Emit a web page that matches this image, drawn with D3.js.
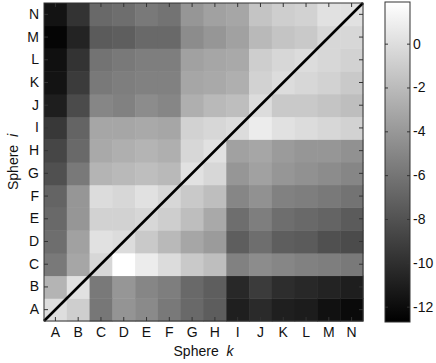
<!DOCTYPE html>
<html><head><meta charset="utf-8">
<script src="https://cdn.jsdelivr.net/npm/d3@7"></script>
<style>body{margin:0;background:#fff}text{font-family:"Liberation Sans",Arial,sans-serif}</style>
</head><body><svg id="c" width="436" height="363"></svg>
<script>
const spheres = ["A","B","C","D","E","F","G","H","I","J","K","L","M","N"];
// rows listed by sphere i (A..N), columns by sphere k (A..N)
const rowA = [0.0,-0.9,-5.9,-4.2,-4.8,-5.8,-6.7,-7.4,-10.9,-10.3,-10.9,-11.1,-11.7,-12.1];
const rowB = [-2.4,0.2,-5.8,-4.1,-5.0,-5.5,-6.7,-7.3,-10.4,-9.3,-10.1,-10.4,-10.7,-11.0];
const rowC = [-5.8,-3.2,-0.4,1.9,0.8,-0.1,-1.2,-1.8,-5.3,-4.7,-5.0,-5.3,-5.5,-5.8];
const rowD = [-6.4,-3.5,0.2,-0.1,-1.2,-2.1,-3.2,-3.8,-7.3,-6.4,-7.3,-7.5,-8.1,-8.4];
const rowE = [-6.7,-4.1,-0.7,-0.7,-0.4,-0.9,-1.8,-3.0,-6.4,-5.5,-6.4,-6.7,-7.0,-7.5];
const rowF = [-7.0,-4.1,-0.1,-0.4,0.2,-0.4,-1.2,-1.8,-5.0,-4.4,-5.3,-5.5,-5.8,-6.1];
const rowG = [-8.1,-5.8,-2.4,-2.1,-1.8,-2.1,0.2,-0.4,-4.1,-3.5,-4.1,-4.4,-4.7,-5.0];
const rowH = [-8.7,-6.7,-3.0,-2.7,-2.4,-2.7,-0.4,0.2,-3.5,-3.2,-3.8,-4.1,-4.1,-4.4];
const rowI = [-9.5,-7.0,-3.2,-3.2,-3.0,-3.2,-0.7,-0.4,-0.1,0.8,0.2,-0.1,-0.4,-0.7];
const rowJ = [-11.0,-8.4,-5.0,-5.3,-4.7,-5.0,-2.7,-2.1,-1.8,-0.1,-1.2,-1.2,-1.5,-1.8];
const rowK = [-11.6,-9.3,-5.8,-5.5,-5.3,-5.3,-3.2,-3.0,-2.7,-0.7,-0.1,-0.4,-0.7,-1.2];
const rowL = [-11.8,-9.8,-6.1,-5.8,-5.5,-5.5,-3.5,-3.2,-3.0,-0.9,-0.4,-0.1,-0.4,-0.7];
const rowM = [-12.4,-10.7,-7.5,-7.3,-6.7,-6.7,-4.7,-4.1,-3.5,-2.1,-1.5,-1.2,-0.4,-0.4];
const rowN = [-11.6,-9.8,-6.7,-6.4,-5.8,-6.1,-4.1,-3.5,-3.2,-1.5,-0.9,-0.7,0.2,0.2];
const rows = [rowA,rowB,rowC,rowD,rowE,rowF,rowG,rowH,rowI,rowJ,rowK,rowL,rowM,rowN];
const colorDomain = [-12.7, 1.9];
const cbTicks = [0,-2,-4,-6,-8,-10,-12];

const svg = d3.select("#c");
const L = 44, R = 363, T = 3, B = 321;
const FS = 14;
const x = d3.scaleBand().domain(spheres).range([L, R]);
const y = d3.scaleBand().domain(spheres).range([B, T]);
const color = d3.scaleLinear().domain(colorDomain).range(["#000","#fff"]);

const cells = [];
rows.forEach((r, i) => r.forEach((v, k) => cells.push({i: spheres[i], k: spheres[k], v})));
svg.append("g").selectAll("rect").data(cells).join("rect")
  .attr("x", d => x(d.k)).attr("y", d => y(d.i))
  .attr("width", x.bandwidth() + 0.5).attr("height", y.bandwidth() + 0.5)
  .attr("fill", d => color(d.v));

// diagonal
svg.append("line").attr("x1", x.range()[0]).attr("y1", y.range()[0])
  .attr("x2", x.range()[1]).attr("y2", y.range()[1])
  .attr("stroke", "#000").attr("stroke-width", 2.6);

const tk = 4;
function styleAxis(g, fs) {
  g.select(".domain").remove();
  g.selectAll(".tick line").attr("stroke", "#333");
  g.selectAll("text").attr("font-size", fs).attr("fill", "#111");
}
svg.append("g").attr("transform", `translate(0,${B})`)
  .call(d3.axisBottom(x).tickSize(-tk).tickPadding(6)).call(g => styleAxis(g, FS));
svg.append("g").attr("transform", `translate(0,${T})`)
  .call(d3.axisTop(x).tickSize(-tk).tickFormat("")).call(g => styleAxis(g, FS));
svg.append("g").attr("transform", `translate(${L},0)`)
  .call(d3.axisLeft(y).tickSize(-tk).tickPadding(5)).call(g => styleAxis(g, FS));
svg.append("g").attr("transform", `translate(${R},0)`)
  .call(d3.axisRight(y).tickSize(-tk).tickFormat("")).call(g => styleAxis(g, FS));
svg.append("rect").attr("x", L).attr("y", T).attr("width", R - L).attr("height", B - T)
  .attr("fill", "none").attr("stroke", "#333").attr("stroke-width", 1);

// axis labels
const xl = svg.append("text").attr("x", (L + R) / 2).attr("y", 356).attr("text-anchor", "middle")
  .attr("font-size", FS).attr("fill", "#111");
xl.append("tspan").text("Sphere\u00a0\u00a0");
xl.append("tspan").attr("font-style", "italic").text("k");
const yl = svg.append("text").attr("transform", `translate(18,${(T + B) / 2}) rotate(-90)`)
  .attr("text-anchor", "middle").attr("font-size", FS).attr("fill", "#111");
yl.append("tspan").text("Sphere\u00a0\u00a0");
yl.append("tspan").attr("font-style", "italic").text("i");

// colorbar
const cbL = 385, cbR = 410, cbT = 2, cbB = 322;
const cy = d3.scaleLinear().domain(colorDomain).range([cbB, cbT]);
const defs = svg.append("defs");
const grad = defs.append("linearGradient").attr("id", "cbg").attr("x1", 0).attr("y1", 1).attr("x2", 0).attr("y2", 0);
grad.append("stop").attr("offset", 0).attr("stop-color", color(colorDomain[0]));
grad.append("stop").attr("offset", 1).attr("stop-color", color(colorDomain[1]));
svg.append("rect").attr("x", cbL).attr("y", cbT).attr("width", cbR - cbL).attr("height", cbB - cbT)
  .attr("fill", "url(#cbg)");
svg.append("g").attr("transform", `translate(${cbR},0)`)
  .call(d3.axisRight(cy).tickValues(cbTicks).tickSize(-3).tickPadding(3).tickFormat(d => d < 0 ? "-" + Math.abs(d) : d))
  .call(g => styleAxis(g, FS));
svg.append("g").attr("transform", `translate(${cbL},0)`)
  .call(d3.axisLeft(cy).tickValues(cbTicks).tickSize(-3).tickFormat(""))
  .call(g => styleAxis(g, FS));
svg.append("rect").attr("x", cbL).attr("y", cbT).attr("width", cbR - cbL).attr("height", cbB - cbT)
  .attr("fill", "none").attr("stroke", "#333").attr("stroke-width", 1);
</script></body></html>
